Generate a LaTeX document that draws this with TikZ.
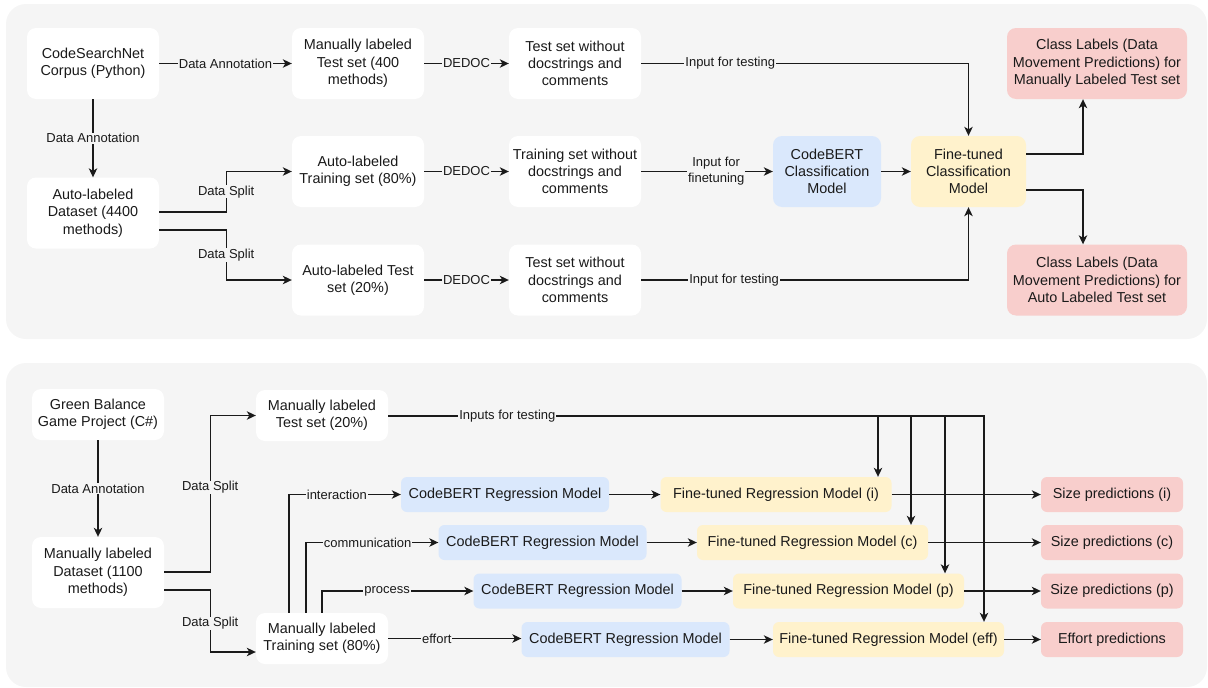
\documentclass[tikz,border=0pt]{standalone}
\usepackage{fontspec}
\setmainfont{Liberation Sans}
\usetikzlibrary{arrows.meta,calc}
\definecolor{panel}{HTML}{F5F5F5}
\definecolor{bluef}{HTML}{DAE8FC}
\definecolor{yellowf}{HTML}{FFF2CC}
\definecolor{redf}{HTML}{F8CECC}
\definecolor{txt}{HTML}{1A1A1A}
\tikzset{
  box/.style={rounded corners=9pt, fill=white, draw=none, minimum width=132pt, minimum height=71pt,
    align=center, inner sep=0pt, text=txt, font=\fontsize{14.4}{17.3}\selectfont},
  sbox/.style={box, minimum height=51pt},
  rbox/.style={box, rounded corners=6pt, minimum height=35pt},
  bluebox/.style={fill=bluef},
  yellowbox/.style={fill=yellowf},
  redbox/.style={fill=redf},
  lbl/.style={fill=panel, text=txt, inner xsep=1pt, inner ysep=0.5pt, align=center,
    font=\fontsize{13}{16}\selectfont},
  arr/.style={draw=txt, line width=1.1pt, -{Stealth[length=9pt,width=8.5pt,inset=2.5pt]}},
}
\begin{document}
\begin{tikzpicture}[x=1pt,y=-1pt]
\useasboundingbox (0,0) rectangle (1208,688);
\fill[panel, rounded corners=20pt] (6,4) rectangle (1207,339);
\fill[panel, rounded corners=20pt] (6,363) rectangle (1207,687);

% ---------- top panel ----------
\node[box] (csn) at (93,63.5) {CodeSearchNet\\Corpus (Python)};
\node[box] (mt) at (358,63.5) {Manually labeled\\Test set (400\\methods)};
\node[box] (ds) at (93,213) {Auto-labeled\\Dataset (4400\\methods)};
\node[box] (tr) at (358,171.5) {Auto-labeled\\Training set (80\%)};
\node[box] (ts) at (358,280) {Auto-labeled Test\\set (20\%)};
\node[box] (tw1) at (575,63.5) {Test set without\\docstrings and\\comments};
\node[box] (tw2) at (575,171.5) {Training set without\\docstrings and\\comments};
\node[box] (tw3) at (575,280) {Test set without\\docstrings and\\comments};
\node[box, bluebox, minimum width=108pt] (cb) at (827,171.5) {CodeBERT\\Classification\\Model};
\node[box, yellowbox, minimum width=115pt] (ft) at (968.5,171.5) {Fine-tuned\\Classification\\Model};
\node[box, redbox, minimum width=180pt] (cl1) at (1097,63.5) {Class Labels (Data\\Movement Predictions) for\\Manually Labeled Test set};
\node[box, redbox, minimum width=180pt] (cl2) at (1097,280) {Class Labels (Data\\Movement Predictions) for\\Auto Labeled Test set};

\draw[arr] (csn) -- node[lbl]{Data Annotation} (mt);
\draw[arr] (csn) -- node[lbl]{Data Annotation} (ds);
\draw[arr] ([yshift=1pt]ds.east) -- ++(67,0) |- node[lbl,pos=0.25]{Data Split} (tr.west);
\draw[arr] ([yshift=-17pt]ds.east) -- ++(67,0) |- node[lbl,pos=0.25]{Data Split} (ts.west);
\draw[arr] (mt) -- node[lbl]{DEDOC} (tw1);
\draw[arr] (tr) -- node[lbl]{DEDOC} (tw2);
\draw[arr] (ts) -- node[lbl]{DEDOC} (tw3);
\draw[arr] (tw1) -| node[lbl,pos=0.136]{Input for testing} (ft);
\draw[arr] (tw2) -- node[lbl,pos=0.57]{Input for\\finetuning} (cb);
\draw[arr] (tw3) -| node[lbl,pos=0.142]{Input for testing} (ft);
\draw[arr] (cb) -- (ft);
\draw[arr] ([yshift=17.5pt]ft.east) -| ([xshift=-14pt]cl1.south);
\draw[arr] ([yshift=-18.5pt]ft.east) -| ([xshift=-14pt]cl2.north);

% ---------- bottom panel ----------
\node[sbox] (gb) at (98,414.5) {Green Balance\\Game Project (C\#)};
\node[box] (md) at (98,572.5) {Manually labeled\\Dataset (1100\\methods)};
\node[sbox] (mts) at (322,415.5) {Manually labeled\\Test set (20\%)};
\node[sbox] (mtr) at (322,638.5) {Manually labeled\\Training set (80\%)};

\node[rbox, bluebox, minimum width=208pt] (cbi) at (505,494.5) {CodeBERT Regression Model};
\node[rbox, bluebox, minimum width=208pt] (cbc) at (542.5,542.5) {CodeBERT Regression Model};
\node[rbox, bluebox, minimum width=208pt] (cbp) at (577.5,591) {CodeBERT Regression Model};
\node[rbox, bluebox, minimum width=208pt] (cbe) at (625.5,639.5) {CodeBERT Regression Model};

\node[rbox, yellowbox, minimum width=231pt] (fti) at (776,494.5) {Fine-tuned Regression Model (i)};
\node[rbox, yellowbox, minimum width=231pt] (ftc) at (812.5,542.5) {Fine-tuned Regression Model (c)};
\node[rbox, yellowbox, minimum width=231pt] (ftp) at (848.5,591) {Fine-tuned Regression Model (p)};
\node[rbox, yellowbox, minimum width=231pt] (fte) at (888.5,639.5) {Fine-tuned Regression Model (eff)};

\node[rbox, redbox, minimum width=142pt] (spi) at (1112,494.5) {Size predictions (i)};
\node[rbox, redbox, minimum width=142pt] (spc) at (1112,542.5) {Size predictions (c)};
\node[rbox, redbox, minimum width=142pt] (spp) at (1112,591) {Size predictions (p)};
\node[rbox, redbox, minimum width=142pt] (spe) at (1112,639.5) {Effort predictions};

\draw[arr] (gb) -- node[lbl]{Data Annotation} (md);
\draw[arr] ([yshift=0.5pt]md.east) -- ++(46,0) |- node[lbl,pos=0.27]{Data Split} (mts.west);
\draw[arr] ([yshift=-17.5pt]md.east) -- ++(46,0) |- node[lbl,pos=0.27]{Data Split} ([yshift=-13.5pt]mtr.west);

\draw[arr] ([yshift=-0.5pt]mts.east) -| ([xshift=102pt]fti.north);
\draw[arr] ([yshift=-0.5pt]mts.east) -| ([xshift=98.5pt]ftc.north);
\draw[arr] ([yshift=-0.5pt]mts.east) -| ([xshift=96.5pt]ftp.north);
\draw[arr] ([yshift=-0.5pt]mts.east) -| node[lbl,pos=0.1]{Inputs for testing} ([xshift=95.5pt]fte.north);

\draw[arr] ([xshift=-33pt]mtr.north) |- node[lbl,pos=0.714]{interaction} (cbi.west);
\draw[arr] ([xshift=-16pt]mtr.north) |- node[lbl,pos=0.733]{communication} (cbc.west);
\draw[arr] (mtr.north) |- node[lbl,pos=0.715]{process} (cbp.west);
\draw[arr] (mtr.east) -- node[lbl,pos=0.365]{effort} (mtr.east -| cbe.west);

\draw[arr] (cbi) -- (fti);
\draw[arr] (cbc) -- (ftc);
\draw[arr] (cbp) -- (ftp);
\draw[arr] (cbe) -- (fte);
\draw[arr] (fti) -- (spi);
\draw[arr] (ftc) -- (spc);
\draw[arr] (ftp) -- (spp);
\draw[arr] (fte) -- (spe);
\end{tikzpicture}
\end{document}
